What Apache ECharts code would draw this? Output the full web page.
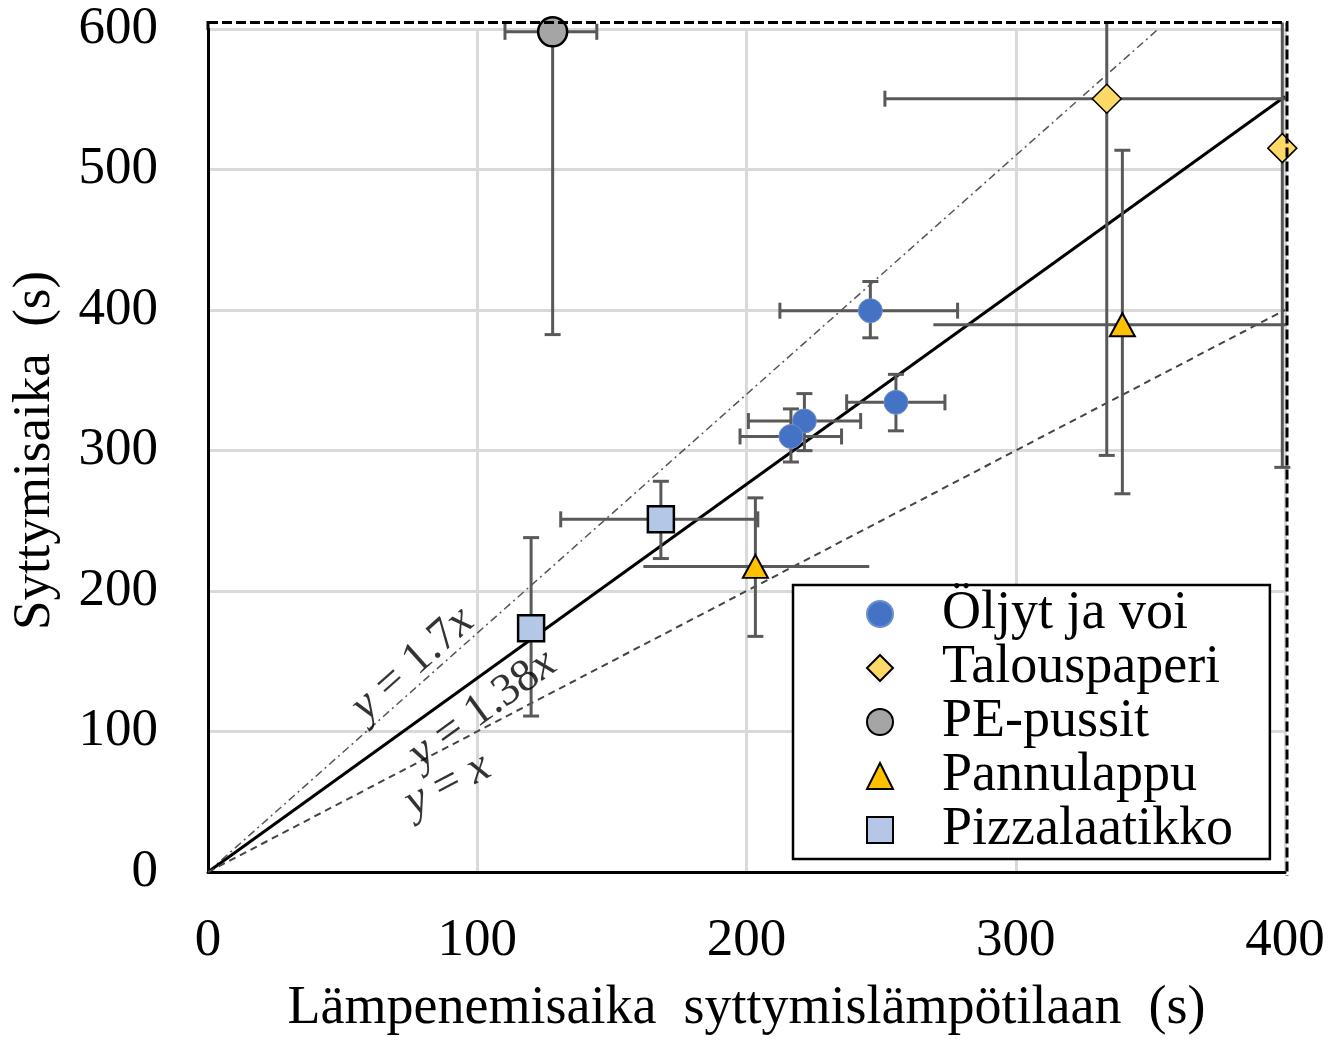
<!DOCTYPE html>
<html>
<head>
<meta charset="utf-8">
<script src="https://cdn.jsdelivr.net/npm/echarts@6/dist/echarts.min.js"></script>
<style>
html, body { margin: 0; padding: 0; background: #fff; }
#main { width: 1328px; height: 1041px; }
</style>
</head>
<body>
<div id="main"></div>
<script>
// data: [x, y], x-error [lo, hi], y-error [lo, hi]
var xTicks = [0, 100, 200, 300, 400];
var yTicks = [0, 100, 200, 300, 400, 500, 600];

var oljyt      = [[246, 399.5], [221.5, 321], [216.5, 310], [255.5, 334.3]];
var oljytXErr  = [[212.4, 278.4], [200.7, 242.4], [197.6, 235.3], [237.2, 273.7]];
var oljytYErr  = [[380.2, 420.3], [299.9, 340.5], [291.8, 329.6], [314, 354.2]];

var talous     = [[333.8, 550.4], [399, 515.2]];
var talousXErr = [[251.4, 416.2], [399, 399]];
var talousYErr = [[296.5, 804], [288, 742]];

var pe         = [[128, 598]];
var peXErr     = [[110.3, 144.4]];
var peYErr     = [[382.5, 813.5]];

var pannu      = [[339.6, 389.5], [203.3, 217.5]];
var pannuXErr  = [[269.4, 409.8], [161.7, 245.6]];
var pannuYErr  = [[269.2, 513.7], [167.7, 266.3]];

var pizza      = [[168.2, 251], [120, 173.5]];
var pizzaXErr  = [[131, 204.2], [120, 120]];
var pizzaYErr  = [[223.1, 278.1], [111, 238]];

var refSlopes  = [1.7, 1.38, 1];

var FONT = 'Liberation Serif';
var X_LIM = 400.3, Y_LIM = 604.6;

function withErr(pts, xe, ye) {
    return pts.map(function (p, i) {
        return [p[0], p[1], xe[i][0], xe[i][1], ye[i][0], ye[i][1]];
    });
}

function errorBars(xCap) {
    return function (params, api) {
        var x = api.value(0), y = api.value(1);
        var xlo = api.value(2), xhiRaw = api.value(3);
        var ylo = api.value(4), yhiRaw = api.value(5);
        var xhi = Math.min(xhiRaw, X_LIM), yhi = Math.min(yhiRaw, Y_LIM);
        var c = api.coord([x, y]);
        var pxlo = api.coord([xlo, y])[0], pxhi = api.coord([xhi, y])[0];
        var pylo = api.coord([x, ylo])[1], pyhi = api.coord([x, yhi])[1];
        var style = { stroke: '#595959', lineWidth: 3 };
        var kids = [];
        var cap = 8;
        function seg(x1, y1, x2, y2) {
            kids.push({ type: 'line', shape: { x1: x1, y1: y1, x2: x2, y2: y2 }, style: style });
        }
        if (xhiRaw > xlo) {
            seg(pxlo, c[1], pxhi, c[1]);
            if (xCap) {
                seg(pxlo, c[1] - cap, pxlo, c[1] + cap);
                if (xhiRaw <= X_LIM) seg(pxhi, c[1] - cap, pxhi, c[1] + cap);
            }
        }
        if (yhiRaw > ylo) {
            seg(c[0], pylo, c[0], pyhi);
            seg(c[0] - cap, pylo, c[0] + cap, pylo);
            if (yhiRaw <= Y_LIM) seg(c[0] - cap, pyhi, c[0] + cap, pyhi);
        }
        return { type: 'group', children: kids };
    };
}

function errSeries(data, xCap) {
    return {
        type: 'custom',
        renderItem: errorBars(xCap),
        data: data,
        clip: false,
        silent: true,
        z: 3,
        encode: { x: 0, y: 1 }
    };
}

function refLine(k, style) {
    var xEnd = Math.min(400, 600 / k);
    return {
        type: 'line',
        data: [[0, 0], [xEnd, k * xEnd]],
        symbol: 'none',
        silent: true,
        z: 2,
        lineStyle: style
    };
}

var myChart = echarts.init(document.getElementById('main'));

var option = {
    backgroundColor: '#fff',
    animation: false,
    grid: { left: 208, right: 43, top: 29, bottom: 165 },
    xAxis: {
        type: 'value',
        min: xTicks[0],
        max: xTicks[xTicks.length - 1],
        interval: 100,
        name: 'Lämpenemisaika  syttymislämpötilaan  (s)',
        nameLocation: 'middle',
        nameGap: 110,
        nameTextStyle: { fontFamily: FONT, fontSize: 54, color: '#000' },
        axisLine: { lineStyle: { color: '#000', width: 3 } },
        axisTick: { show: false },
        axisLabel: { fontFamily: FONT, fontSize: 53, color: '#000', margin: 43 },
        splitLine: { lineStyle: { color: '#D9D9D9', width: 3 } }
    },
    yAxis: {
        type: 'value',
        min: yTicks[0],
        max: yTicks[yTicks.length - 1],
        interval: 100,
        name: 'Syttymisaika  (s)',
        nameLocation: 'middle',
        nameGap: 146,
        nameTextStyle: { fontFamily: FONT, fontSize: 53, color: '#000' },
        axisLine: { lineStyle: { color: '#000', width: 3 } },
        axisTick: { show: false },
        axisLabel: { fontFamily: FONT, fontSize: 53, color: '#000', margin: 50 },
        splitLine: { lineStyle: { color: '#D9D9D9', width: 3 } }
    },
    legend: {
        orient: 'vertical',
        left: 793,
        top: 585,
        padding: [2, 37, 2, 73],
        itemWidth: 26,
        itemHeight: 26,
        itemGap: 0,
        borderColor: '#000',
        borderWidth: 2.5,
        backgroundColor: '#fff',
        data: ['Öljyt ja voi', 'Talouspaperi', 'PE-pussit', 'Pannulappu', 'Pizzalaatikko'],
        textStyle: { fontFamily: FONT, fontSize: 54, lineHeight: 54, color: '#000', padding: [0, 0, 0, 44] }
    },
    graphic: [
        { type: 'polyline', z: 100, shape: { points: [[208, 22.5], [1287, 22.5], [1287, 876]] },
          style: { stroke: '#000', lineWidth: 3, lineDash: [10, 4], fill: null } },
        { type: 'line', z: 100, shape: { x1: 208, y1: 21, x2: 208, y2: 30 },
          style: { stroke: '#000', lineWidth: 3 } }
    ],
    series: [
        refLine(refSlopes[0], { color: '#555', width: 1.5, type: [8, 4, 2, 4] }),
        refLine(refSlopes[1], { color: '#000', width: 3, type: 'solid' }),
        refLine(refSlopes[2], { color: '#444', width: 2, type: [7, 5] }),

        errSeries(withErr(oljyt, oljytXErr, oljytYErr), true),
        errSeries(withErr(talous, talousXErr, talousYErr), true),
        errSeries(withErr(pe, peXErr, peYErr), true),
        errSeries(withErr(pannu, pannuXErr, pannuYErr), false),
        errSeries(withErr(pizza, pizzaXErr, pizzaYErr), true),

        {
            name: 'Öljyt ja voi', type: 'scatter', data: oljyt, z: 5,
            symbol: 'circle', symbolSize: 24,
            itemStyle: { color: '#4472C4', borderColor: '#6f8fcc', borderWidth: 1, opacity: 1 }
        },
        {
            name: 'Talouspaperi', type: 'scatter', data: talous, z: 5,
            symbol: 'diamond', symbolSize: 29,
            itemStyle: { color: '#FFD966', borderColor: '#000', borderWidth: 1.5, opacity: 1 }
        },
        {
            name: 'PE-pussit', type: 'scatter', data: pe, z: 5,
            symbol: 'circle', symbolSize: 29,
            itemStyle: { color: '#A5A5A5', borderColor: '#000', borderWidth: 2.5, opacity: 1 }
        },
        {
            name: 'Pannulappu', type: 'scatter', data: pannu, z: 5,
            symbol: 'triangle', symbolSize: [25, 23],
            itemStyle: { color: '#FFC000', borderColor: '#000', borderWidth: 2, opacity: 1 }
        },
        {
            name: 'Pizzalaatikko', type: 'scatter', data: pizza, z: 5,
            symbol: 'rect', symbolSize: 26,
            itemStyle: { color: '#B4C7E7', borderColor: '#000', borderWidth: 2.5, opacity: 1 }
        },

        // equation labels along the reference lines
        {
            type: 'scatter', silent: true, z: 6, symbolSize: 0,
            label: {
                show: true, position: 'inside', color: '#000',
                fontFamily: FONT, fontSize: 46,
                rich: { i: { fontFamily: FONT, fontSize: 46, fontStyle: 'italic', color: '#000' } }
            },
            data: [
                { value: [76, 148], label: { rotate: 41.7, formatter: '{i|y} = 1.7{i|x}' } },
                { value: [102, 116], label: { rotate: 35.9, formatter: '{i|y} = 1.38{i|x}' } },
                { value: [89, 62], label: { rotate: 27.7, formatter: '{i|y} = {i|x}' } }
            ]
        }
    ]
};

myChart.setOption(option);
</script>
</body>
</html>
